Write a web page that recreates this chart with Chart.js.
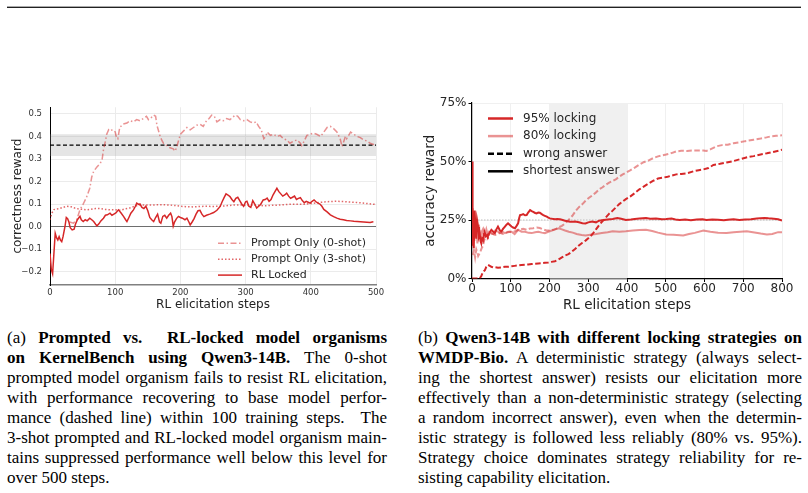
<!DOCTYPE html>
<html>
<head>
<meta charset="utf-8">
<script src="https://cdn.jsdelivr.net/npm/chart.js@4.4.1/dist/chart.umd.min.js"></script>
<style>
  html, body { margin: 0; padding: 0; background: #fff; }
  body { width: 808px; height: 493px; position: relative; overflow: hidden; }
  .rule1 { position: absolute; left: 7px; width: 794px; top: 6px; height: 1px; background: #aaa; }
  .rule2 { position: absolute; left: 7px; width: 794px; top: 7px; height: 1px; background: #222; }
  .plot { position: absolute; }
  .cap { position: absolute; font-family: 'Liberation Serif', 'Times New Roman', serif; font-size: 17px; line-height: 20px; color: #000; }
  .cap div { text-align: justify; text-align-last: justify; }
  .cap div.last { text-align: left; text-align-last: left; }
</style>
</head>
<body>
<div class="rule1"></div><div class="rule2"></div>
<div class="plot" style="left:0px;top:95px;width:400px;height:220px;"><canvas id="c1" width="400" height="220"></canvas></div>
<div class="plot" style="left:410px;top:95px;width:398px;height:220px;"><canvas id="c2" width="398" height="220"></canvas></div>

<div class="cap" style="left:7px;top:328px;width:380px;">
  <div>(a) <b>Prompted vs.&nbsp; RL-locked model organisms</b></div>
  <div><b>on KernelBench using Qwen3-14B.</b> The 0-shot</div>
  <div>prompted model organism fails to resist RL elicitation,</div>
  <div>with performance recovering to base model perfor-</div>
  <div>mance (dashed line) within 100 training steps.&nbsp; The</div>
  <div>3-shot prompted and RL-locked model organism main-</div>
  <div>tains suppressed performance well below this level for</div>
  <div class="last">over 500 steps.</div>
</div>
<div class="cap" style="left:418px;top:328px;width:384px;">
  <div>(b) <b>Qwen3-14B with different locking strategies on</b></div>
  <div><b>WMDP-Bio.</b> A deterministic strategy (always select-</div>
  <div>ing the shortest answer) resists our elicitation more</div>
  <div>effectively than a non-deterministic strategy (selecting</div>
  <div>a random incorrect answer), even when the determin-</div>
  <div>istic strategy is followed less reliably (80% vs. 95%).</div>
  <div>Strategy choice dominates strategy reliability for re-</div>
  <div class="last">sisting capability elicitation.</div>
</div>

<script>
// ---------------- Left chart (KernelBench) data ----------------
const kbXTicks = [0, 100, 200, 300, 400, 500];
const kbBaseline = 0.362;
const kbBandLow = 0.313;
const kbBandHigh = 0.41;

const zeroShotSteps = [30,36,41,46,51,56,61,64,67,72,77,80,82,85,87,90,92,96,100,102,104,107,112,118,123,128,133,138,143,148,151,154,159,162,164,167,169,172,174,179,184,189,192,194,197,200,205,210,215,220,225,230,235,240,244,248,252,256,261,266,271,276,280,284,288,292,297,302,307,312,316,320,324,328,331,333,338,343,348,353,358,363,368,374,379,384,386,389,394,399,404,409,415,420,425,430,435,440,445,448,453,455,461,466,471,476,481,486,491,496,500];
const zeroShotValues = [0.02,0.015,0.03,0.075,0.10,0.13,0.17,0.22,0.245,0.265,0.28,0.30,0.34,0.38,0.41,0.43,0.425,0.43,0.42,0.395,0.39,0.44,0.455,0.46,0.47,0.465,0.475,0.47,0.48,0.49,0.475,0.48,0.495,0.49,0.45,0.42,0.40,0.38,0.37,0.36,0.35,0.345,0.335,0.35,0.38,0.41,0.425,0.44,0.43,0.44,0.45,0.455,0.445,0.47,0.48,0.495,0.49,0.465,0.475,0.47,0.48,0.475,0.485,0.495,0.49,0.475,0.47,0.475,0.465,0.46,0.465,0.445,0.43,0.39,0.40,0.42,0.405,0.41,0.40,0.405,0.39,0.385,0.37,0.38,0.385,0.37,0.36,0.375,0.405,0.41,0.415,0.41,0.40,0.42,0.44,0.445,0.435,0.42,0.39,0.355,0.40,0.39,0.42,0.41,0.40,0.395,0.385,0.38,0.37,0.365,0.37];

const threeShotSteps = [0,3,6,10,15,20,26,32,38,44,50,56,62,70,77,85,92,100,108,115,122,128,135,142,150,160,170,180,190,200,210,220,230,240,250,260,270,280,290,300,310,320,330,340,350,360,370,380,390,400,410,420,430,440,450,460,470,480,490,500];
const threeShotValues = [0.03,0.06,0.075,0.078,0.08,0.085,0.09,0.088,0.082,0.078,0.076,0.074,0.076,0.08,0.08,0.076,0.074,0.074,0.072,0.078,0.082,0.088,0.094,0.096,0.095,0.096,0.097,0.096,0.094,0.09,0.088,0.087,0.089,0.09,0.089,0.09,0.092,0.095,0.096,0.094,0.095,0.094,0.092,0.094,0.095,0.097,0.099,0.099,0.099,0.102,0.106,0.109,0.111,0.112,0.111,0.109,0.107,0.104,0.101,0.098];

const rlLockedSteps = [0,2,4,6,8,10,12,14,16,18,20,23,25,27,29,31,34,37,39,42,46,48,51,54,57,61,64,67,70,72,75,78,82,85,88,92,95,98,101,105,109,113,116,118,121,124,128,131,133,136,138,141,144,147,150,153,156,159,162,165,168,170,173,176,179,182,185,187,189,191,194,197,200,203,207,210,213,215,218,221,224,227,230,233,236,240,245,251,256,261,264,267,270,273,276,279,282,285,288,291,294,297,300,302,305,308,311,314,317,320,323,327,330,333,336,339,342,345,348,351,354,357,360,363,366,369,372,375,378,381,384,387,390,393,396,399,402,405,408,411,414,417,420,425,430,435,440,445,450,455,461,466,471,476,481,486,491,494,496];
const rlLockedValues = [-0.12,-0.19,-0.21,-0.12,-0.03,-0.05,-0.06,-0.045,-0.06,-0.067,-0.045,0.0,0.04,0.035,0.02,-0.005,-0.015,-0.012,0.01,0.03,0.045,0.03,0.022,0.03,0.025,0.037,0.03,0.022,0.01,0.003,0.012,0.025,0.037,0.05,0.052,0.059,0.05,0.055,0.06,0.074,0.06,0.044,0.03,0.022,0.04,0.059,0.074,0.09,0.104,0.098,0.10,0.085,0.08,0.09,0.07,0.04,0.03,0.022,0.04,0.055,0.02,0.015,0.045,0.05,0.037,0.05,0.059,0.044,0.002,0.02,0.035,0.045,0.04,0.037,0.03,0.037,0.02,0.007,0.02,0.035,0.055,0.07,0.072,0.055,0.044,0.05,0.055,0.062,0.072,0.089,0.11,0.128,0.145,0.14,0.133,0.12,0.11,0.125,0.13,0.115,0.10,0.09,0.11,0.112,0.09,0.085,0.115,0.10,0.082,0.09,0.098,0.118,0.12,0.126,0.112,0.12,0.14,0.155,0.17,0.155,0.145,0.135,0.14,0.148,0.135,0.125,0.13,0.135,0.12,0.125,0.128,0.115,0.106,0.112,0.108,0.104,0.112,0.118,0.11,0.104,0.10,0.09,0.076,0.065,0.052,0.044,0.037,0.032,0.03,0.027,0.025,0.023,0.022,0.021,0.02,0.019,0.018,0.02,0.021];

// ---------------- Right chart (WMDP-Bio) data ----------------
const wmXTicks = [0, 100, 200, 300, 400, 500, 600, 700, 800];
const wmYTicks = [0, 0.25, 0.5, 0.75];
const wmShadeFrom = 200;
const wmShadeTo = 400;
const wmChanceLevel = 0.25;

const short95Steps = [0,1,2,3,4,5,7,9,11,13,16,18,20,22,24,26,28,31,33,36,39,41,45,50,55,59,63,67,72,76,80,85,89,93,97,102,106,111,115,119,122,124,128,132,137,141,145,150,154,158,163,167,171,175,180,184,188,193,197,201,207,214,220,227,234,240,247,253,260,266,276,285,293,300,310,320,328,340,350,363,375,385,397,410,420,432,449,460,475,490,501,515,525,536,550,565,580,595,605,620,635,650,660,675,690,705,720,735,744,755,765,779,790,800];
const short95Values = [0.50,0.14,0.30,0.16,0.28,0.13,0.29,0.20,0.17,0.25,0.22,0.18,0.19,0.16,0.15,0.17,0.165,0.19,0.195,0.18,0.185,0.18,0.195,0.208,0.20,0.194,0.21,0.222,0.205,0.201,0.212,0.222,0.23,0.236,0.23,0.222,0.218,0.215,0.225,0.236,0.26,0.271,0.272,0.275,0.27,0.271,0.282,0.292,0.288,0.285,0.28,0.278,0.282,0.281,0.275,0.271,0.268,0.264,0.26,0.257,0.255,0.253,0.254,0.253,0.25,0.247,0.245,0.243,0.243,0.244,0.24,0.236,0.235,0.24,0.244,0.24,0.247,0.25,0.252,0.254,0.258,0.255,0.25,0.252,0.254,0.256,0.258,0.255,0.256,0.253,0.254,0.256,0.252,0.25,0.252,0.249,0.252,0.253,0.25,0.252,0.251,0.249,0.251,0.253,0.25,0.252,0.253,0.256,0.258,0.259,0.257,0.255,0.253,0.248];

const short80Steps = [0,2,4,6,8,10,12,14,16,18,20,22,25,28,31,34,37,40,44,50,55,60,67,72,80,85,93,102,110,119,128,137,146,154,163,171,180,188,197,206,215,224,232,240,250,260,270,283,293,305,320,335,350,363,380,397,415,432,449,465,480,501,520,545,560,575,597,615,635,657,675,692,709,725,745,761,775,790,800];
const short80Values = [0.30,0.18,0.24,0.16,0.22,0.19,0.21,0.15,0.20,0.23,0.18,0.17,0.20,0.21,0.17,0.19,0.21,0.19,0.20,0.192,0.19,0.205,0.20,0.195,0.198,0.194,0.20,0.20,0.19,0.208,0.20,0.20,0.195,0.194,0.198,0.20,0.196,0.194,0.20,0.205,0.21,0.215,0.21,0.205,0.20,0.196,0.19,0.186,0.184,0.187,0.19,0.194,0.198,0.202,0.20,0.202,0.205,0.207,0.208,0.203,0.196,0.188,0.187,0.184,0.19,0.195,0.205,0.20,0.196,0.194,0.198,0.20,0.202,0.198,0.192,0.188,0.19,0.198,0.198];

const wrong80Steps = [2,5,8,11,14,16,19,22,25,28,31,34,37,41,46,50,55,60,67,72,80,88,97,106,115,124,132,141,150,158,167,175,184,192,201,210,218,224,232,240,249,259,268,276,285,293,302,311,320,328,337,345,354,363,372,380,389,397,408,420,432,443,455,467,480,490,501,515,527,540,555,571,585,597,605,615,631,645,660,675,690,705,727,745,760,770,785,800];
const wrong80Values = [0.10,0.12,0.09,0.124,0.11,0.096,0.105,0.117,0.13,0.138,0.16,0.175,0.185,0.19,0.185,0.194,0.19,0.186,0.19,0.195,0.19,0.195,0.20,0.198,0.205,0.21,0.212,0.208,0.214,0.215,0.218,0.216,0.21,0.205,0.205,0.208,0.213,0.219,0.225,0.235,0.25,0.268,0.29,0.305,0.318,0.332,0.345,0.356,0.368,0.381,0.39,0.40,0.41,0.417,0.425,0.435,0.445,0.452,0.462,0.474,0.487,0.497,0.504,0.514,0.522,0.526,0.53,0.536,0.543,0.546,0.545,0.547,0.547,0.547,0.545,0.552,0.565,0.57,0.572,0.578,0.582,0.587,0.593,0.598,0.603,0.607,0.61,0.612];

const wrong95Steps = [0,10,20,24,28,33,37,41,45,50,55,60,67,75,85,93,102,110,119,128,137,145,154,163,171,180,188,197,205,214,222,227,232,240,249,258,266,275,284,293,302,311,320,328,337,345,354,363,372,380,389,397,408,420,432,445,455,467,480,493,505,516,527,540,555,571,585,597,610,623,640,657,675,692,710,727,745,761,780,800];
const wrong95Values = [0.0,0.0,0.0,0.01,0.027,0.035,0.05,0.058,0.055,0.05,0.047,0.048,0.046,0.047,0.05,0.05,0.052,0.054,0.056,0.058,0.059,0.06,0.062,0.063,0.064,0.065,0.067,0.068,0.071,0.074,0.08,0.085,0.09,0.098,0.104,0.115,0.126,0.14,0.152,0.162,0.175,0.19,0.21,0.228,0.245,0.26,0.277,0.29,0.305,0.318,0.329,0.339,0.35,0.365,0.381,0.395,0.405,0.417,0.427,0.431,0.435,0.44,0.445,0.447,0.45,0.458,0.463,0.466,0.472,0.485,0.49,0.496,0.502,0.51,0.518,0.523,0.53,0.535,0.542,0.55];

const wmLegendLabels = ['95% locking', '80% locking', 'wrong answer', 'shortest answer'];

// ---------------- helpers ----------------
const DARK = '#d62728';
const LIGHT = 'rgba(214,39,40,0.5)';
const pts = (xs, ys) => xs.map((x, i) => ({x: x, y: ys[i]}));

Chart.defaults.font.family = "'DejaVu Sans', sans-serif";
Chart.defaults.color = '#262626';

const inlineLegend = {
  id: 'inlineLegend',
  afterDatasetsDraw(chart, args, opts) {
    const ctx = chart.ctx;
    ctx.save();
    ctx.font = opts.font;
    opts.items.forEach((it, i) => {
      const y = opts.y + i * opts.rowGap;
      ctx.beginPath();
      ctx.setLineDash(it.dash || []);
      ctx.strokeStyle = it.color;
      ctx.lineWidth = it.width;
      ctx.moveTo(opts.x, y);
      ctx.lineTo(opts.x + opts.handle, y);
      ctx.stroke();
      ctx.setLineDash([]);
      ctx.fillStyle = opts.textColor;
      ctx.textBaseline = 'middle';
      ctx.textAlign = 'left';
      ctx.fillText(it.label, opts.x + opts.handle + opts.gap, y);
    });
    ctx.restore();
  }
};

const shadeX = {
  id: 'shadeX',
  beforeDatasetsDraw(chart, args, opts) {
    if (!opts || opts.from === undefined) return;
    const {ctx, chartArea} = chart;
    const xs = chart.scales.x;
    const a = xs.getPixelForValue(opts.from), b = xs.getPixelForValue(opts.to);
    ctx.save();
    ctx.fillStyle = opts.color;
    ctx.fillRect(a, chartArea.top, b - a, chartArea.bottom - chartArea.top);
    ctx.restore();
  }
};

// ---------------- Left chart ----------------
const kbDatasets = [
  {label: 'Prompt Only (0-shot)', data: pts(zeroShotSteps, zeroShotValues), borderColor: 'rgba(214,39,40,0.5)', borderWidth: 1.5, borderDash: [6, 2.5, 1.5, 2.5], order: 3},
  {label: 'Prompt Only (3-shot)', data: pts(threeShotSteps, threeShotValues), borderColor: 'rgba(214,39,40,0.7)', borderWidth: 1.5, borderDash: [1.5, 2], order: 2},
  {label: 'RL Locked', data: pts(rlLockedSteps, rlLockedValues), borderColor: DARK, borderWidth: 1.5, order: 1},
  {label: 'base', data: pts([kbXTicks[0], kbXTicks[kbXTicks.length - 1]], [kbBaseline, kbBaseline]), borderColor: '#000', borderWidth: 1.2, borderDash: [4, 2.5], order: 4},
  {label: 'band', data: pts([kbXTicks[0], kbXTicks[kbXTicks.length - 1]], [kbBandHigh, kbBandHigh]), borderWidth: 0, borderColor: 'rgba(0,0,0,0)', backgroundColor: 'rgba(150,150,150,0.25)', fill: {value: kbBandLow}, order: 5}
];

const fmtKb = v => {
  const r = Math.round(v * 10) / 10;
  if (r === 0) return '0.0';
  return (r < 0 ? '\u2212' : '') + Math.abs(r).toFixed(1);
};

new Chart(document.getElementById('c1'), {
  type: 'line',
  data: {datasets: kbDatasets},
  options: {
    responsive: false, animation: false,
    layout: {padding: {top: 11, right: 24, left: 0, bottom: 0}},
    elements: {point: {radius: 0}, line: {tension: 0}},
    plugins: {
      legend: {display: false}, tooltip: {enabled: false},
      inlineLegend: {
        x: 218, y: 148.3, rowGap: 15.9, handle: 24, gap: 9, font: "11px 'DejaVu Sans'", textColor: '#262626',
        items: kbDatasets.slice(0, 3).map(d => ({label: d.label, color: d.borderColor, dash: d.borderDash, width: d.borderWidth}))
      }
    },
    scales: {
      x: {
        type: 'linear', min: kbXTicks[0], max: kbXTicks[kbXTicks.length - 1],
        afterFit: s => { s.height = 30; },
        afterBuildTicks: s => { s.ticks = kbXTicks.map(v => ({value: v})); },
        ticks: {font: {size: 8.5, lineHeight: 1}, color: '#333', padding: 4, maxRotation: 0, autoSkip: false, callback: v => String(v)},
        grid: {color: '#ebebeb', lineWidth: 1, drawTicks: false},
        border: {display: true, color: '#808080', width: 1.5},
        title: {display: true, text: 'RL elicitation steps', font: {size: 12, lineHeight: 1}, color: '#222', padding: {top: 0, bottom: 4}}
      },
      y: {
        type: 'linear', min: -0.26, max: 0.53,
        afterFit: s => { s.width = 50; },
        ticks: {stepSize: 0.1, includeBounds: false, font: {size: 8.5, lineHeight: 1}, color: '#333', padding: 8, callback: fmtKb},
        grid: {color: c => (c.tick && Math.abs(c.tick.value) < 1e-9) ? '#6e6e6e' : '#ebebeb', lineWidth: 1, drawTicks: false},
        border: {display: true, color: '#000', width: 1},
        title: {display: true, text: 'correctness reward', font: {size: 12, lineHeight: 1}, color: '#222', padding: {top: 12, bottom: 0}}
      }
    }
  },
  plugins: [inlineLegend]
});

// ---------------- Right chart ----------------
const wmDatasets = [
  {label: '95% locking, shortest answer', data: pts(short95Steps, short95Values), borderColor: DARK, borderWidth: 2, order: 1},
  {label: '80% locking, shortest answer', data: pts(short80Steps, short80Values), borderColor: LIGHT, borderWidth: 2, order: 3},
  {label: '95% locking, wrong answer', data: pts(wrong95Steps, wrong95Values), borderColor: DARK, borderWidth: 2, borderDash: [5.5, 2.5], order: 2},
  {label: '80% locking, wrong answer', data: pts(wrong80Steps, wrong80Values), borderColor: LIGHT, borderWidth: 2, borderDash: [5.5, 2.5], order: 4},
  {label: 'chance', data: pts([wmXTicks[0], wmXTicks[wmXTicks.length - 1]], [wmChanceLevel, wmChanceLevel]), borderColor: '#bdbdbd', borderWidth: 1.2, borderDash: [1.5, 1.5], order: 6}
];

new Chart(document.getElementById('c2'), {
  type: 'line',
  data: {datasets: wmDatasets},
  options: {
    responsive: false, animation: false,
    layout: {padding: {top: 7, right: 26, left: 0, bottom: 0}},
    elements: {point: {radius: 0}, line: {tension: 0}},
    plugins: {
      legend: {display: false}, tooltip: {enabled: false},
      shadeX: {from: wmShadeFrom, to: wmShadeTo, color: '#f0f0f0'},
      inlineLegend: {
        x: 78, y: 23.5, rowGap: 17.6, handle: 25, gap: 10, font: "12px 'DejaVu Sans'", textColor: '#262626',
        items: [
          {label: wmLegendLabels[0], color: DARK, width: 2.5},
          {label: wmLegendLabels[1], color: LIGHT, width: 2.5},
          {label: wmLegendLabels[2], color: '#000', width: 2.5, dash: [6, 3]},
          {label: wmLegendLabels[3], color: '#000', width: 2.5}
        ]
      }
    },
    scales: {
      x: {
        type: 'linear', min: wmXTicks[0], max: wmXTicks[wmXTicks.length - 1],
        afterFit: s => { s.height = 36.5; },
        afterBuildTicks: s => { s.ticks = wmXTicks.map(v => ({value: v})); },
        ticks: {font: {size: 12, lineHeight: 1}, color: '#262626', padding: 1, maxRotation: 0, autoSkip: false, callback: v => String(v)},
        grid: {color: '#f0f0f0', lineWidth: 1, tickLength: 3.5, tickColor: '#000', tickWidth: 1},
        border: {display: true, color: '#000', width: 1.2},
        title: {display: true, text: 'RL elicitation steps', font: {size: 13.5, lineHeight: 1}, color: '#222', padding: {top: 0, bottom: 3}}
      },
      y: {
        type: 'linear', min: wmYTicks[0], max: wmYTicks[wmYTicks.length - 1],
        afterFit: s => { s.width = 62; },
        afterBuildTicks: s => { s.ticks = wmYTicks.map(v => ({value: v})); },
        ticks: {font: {size: 12, lineHeight: 1}, color: '#262626', padding: 2, callback: v => Math.round(v * 100) + '%'},
        grid: {color: '#f0f0f0', lineWidth: 1, tickLength: 3.5, tickColor: '#000', tickWidth: 1},
        border: {display: true, color: '#000', width: 1.2},
        title: {display: true, text: 'accuracy reward', font: {size: 13.5, lineHeight: 1}, color: '#222', padding: {top: 14, bottom: 0}}
      }
    }
  },
  plugins: [inlineLegend, shadeX]
});
</script>
</body>
</html>
